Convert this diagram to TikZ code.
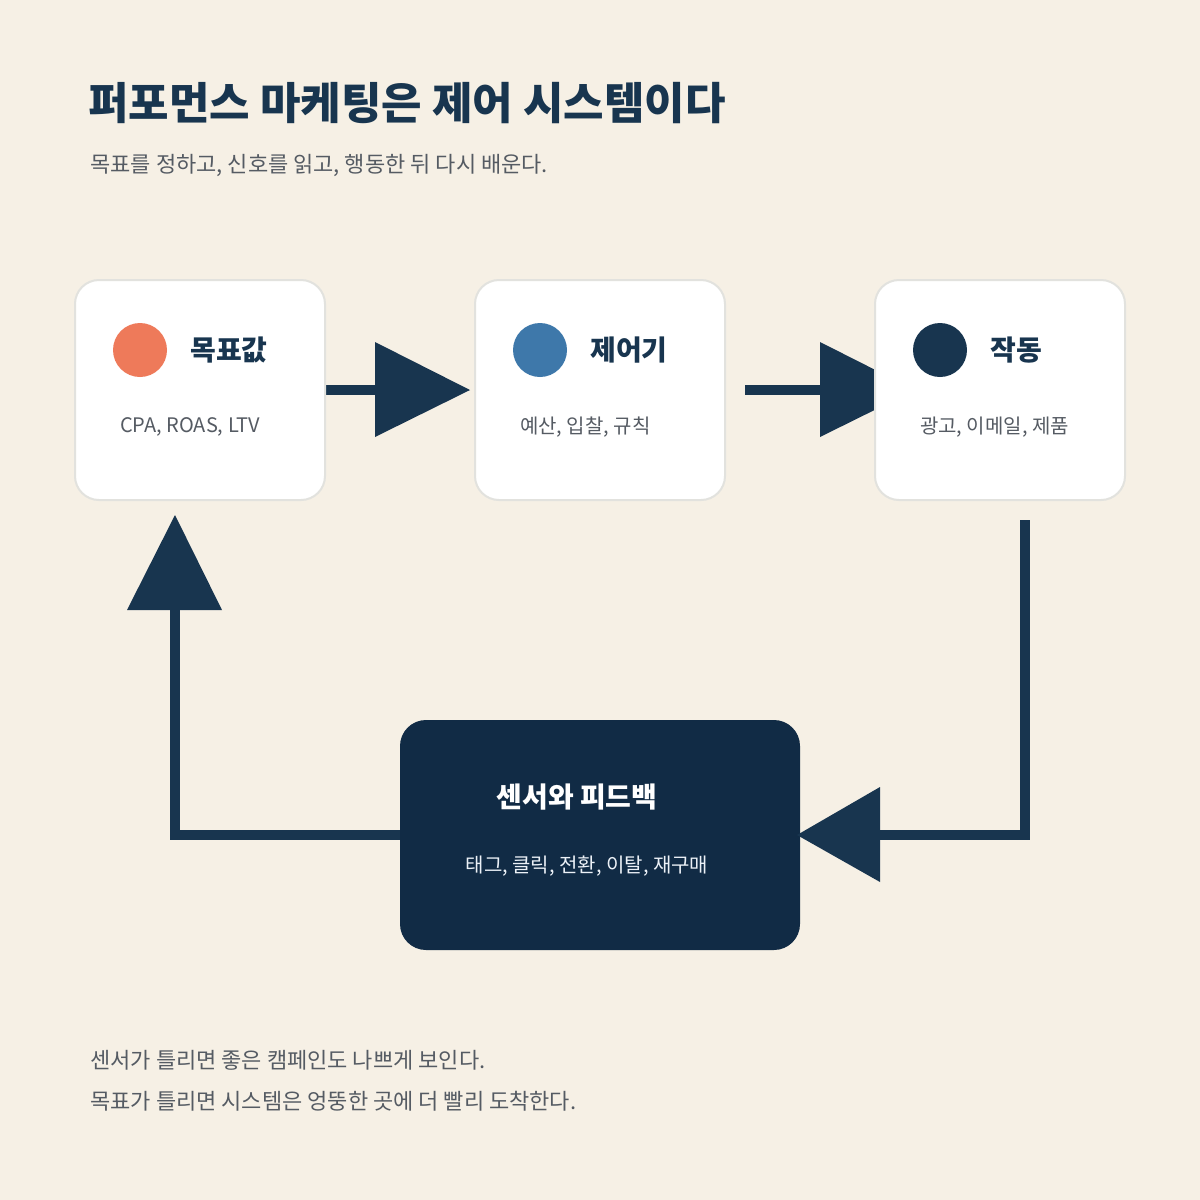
\documentclass[tikz,border=0pt]{standalone}
\usepackage{fontspec}
\setmainfont{Noto Sans CJK KR}
\usetikzlibrary{positioning}
\definecolor{paper}{HTML}{F6F0E5}
\definecolor{navy}{HTML}{18354F}
\definecolor{deep}{HTML}{112B45}
\definecolor{ink}{HTML}{555B63}
\definecolor{edge}{HTML}{E2E2DE}
\definecolor{coral}{HTML}{EE7A5A}
\definecolor{steel}{HTML}{3E78AA}
\tikzset{
    stage box/.style={draw=edge, line width=1pt, fill=white, rounded corners=12pt,
        minimum width=125pt, minimum height=110pt},
    dot/.style={circle, minimum size=27pt, inner sep=0pt},
    stage title/.style={anchor=west, font=\fontsize{14}{16}\selectfont\bfseries, text=navy},
    stage text/.style={anchor=west, font=\fontsize{10}{12}\selectfont, text=ink},
    flow/.style={draw=navy, line width=5pt},
    head/.style={fill=navy}
}
\begin{document}
\begin{tikzpicture}[x=0.5pt, y=-0.5pt]
    \fill[paper] (0,0) rectangle (1200,1200);
    \useasboundingbox (0,0) rectangle (1200,1200);

    \node[anchor=west, inner sep=0pt, font=\fontsize{22}{26}\selectfont\bfseries, text=navy] (title) at (88,103) {퍼포먼스 마케팅은 제어 시스템이다};
    \node[anchor=west, inner sep=0pt, font=\fontsize{11}{13}\selectfont, text=ink] (sub) at (90,165) {목표를 정하고, 신호를 읽고, 행동한 뒤 다시 배운다.};

    % arrow heads
    \coordinate (a1s) at (325,390); \coordinate (a1e) at (378,390);
    \fill[head] (375,342) -- (470,390) -- (375,437) -- cycle;
    \coordinate (a2s) at (745,390); \coordinate (a2e) at (823,390);
    \fill[head] (820,342) -- (915,390) -- (820,437) -- cycle;
    \draw[flow] (a1s) -- (a1e);
    \draw[flow] (a2s) -- (a2e);

    \node[stage box] (goal) at (200,390) {};
    \node[stage box] (ctrl) at (600,390) {};
    \node[stage box] (act) at (1000,390) {};

    \node[dot, fill=coral] (goaldot) at (140,350) {};
    \node[dot, fill=steel] (ctrldot) at (540,350) {};
    \node[dot, fill=navy] (actdot) at (940,350) {};
    \node[stage title, right=8pt of goaldot] (goalname) {목표값};
    \node[stage title, right=8pt of ctrldot] (ctrlname) {제어기};
    \node[stage title, right=8pt of actdot] (actname) {작동};
    \node[stage text] (goaltext) at (113,427) {CPA, ROAS, LTV};
    \node[stage text] (ctrltext) at (513,427) {예산, 입찰, 규칙};
    \node[stage text] (acttext) at (913,427) {광고, 이메일, 제품};

    \node[fill=deep, rounded corners=13pt, minimum width=200pt, minimum height=115pt] (sense) at (600,835) {};
    \node[font=\fontsize{14}{16}\selectfont\bfseries, text=white] (sensename) at (577,797) {센서와 피드백};
    \node[font=\fontsize{10}{12}\selectfont, text=white!90!steel] (sensetext) at (587,866) {태그, 클릭, 전환, 이탈, 재구매};

    \coordinate (r0) at (1025,520); \coordinate (r1) at (1025,835); \coordinate (r2) at (877,835);
    \draw[flow, line join=miter] (r0) -- (r1) -- (r2);
    \fill[head] (880,787) -- (880,882) -- (797,835) -- cycle;

    \coordinate (l1) at (175,835); \coordinate (l2) at (175,607);
    \draw[flow, line join=miter] (sense.west |- l1) -- (l1) -- (l2);
    \fill[head] (127,610) -- (222,610) -- (175,515) -- cycle;

    \node[anchor=west, inner sep=0pt, font=\fontsize{11}{13}\selectfont, text=ink] (note1) at (90,1060) {센서가 틀리면 좋은 캠페인도 나쁘게 보인다.};
    \node[anchor=west, inner sep=0pt, font=\fontsize{11}{13}\selectfont, text=ink] (note2) at (90,1101) {목표가 틀리면 시스템은 엉뚱한 곳에 더 빨리 도착한다.};
\end{tikzpicture}
\end{document}
